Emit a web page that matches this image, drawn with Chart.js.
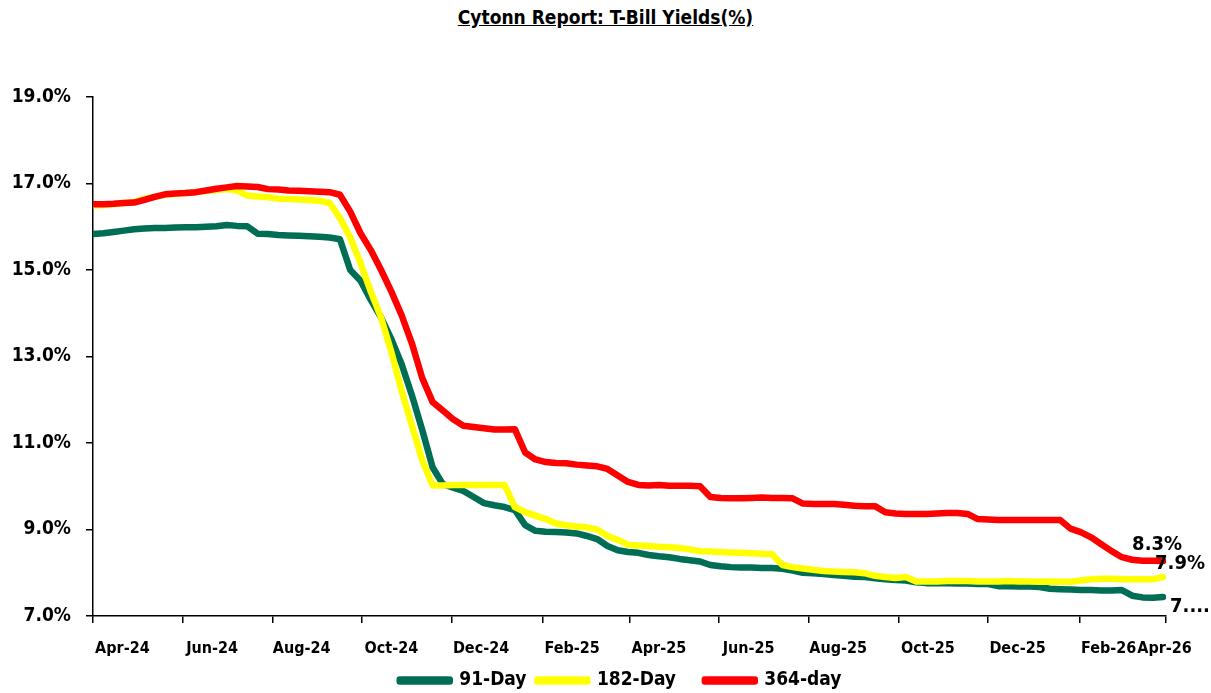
<!DOCTYPE html>
<html>
<head>
<meta charset="utf-8">
<script src="https://cdn.jsdelivr.net/npm/chart.js@4.4.1/dist/chart.umd.min.js"></script>
<style>
  body { margin: 0; background: #fff; }
  .wrap { position: relative; width: 1211px; height: 693px; }
  .title {
    position: absolute; top: 6px; left: 0; width: 1211px; text-align: center;
    font: bold 19px "DejaVu Sans Condensed", "Liberation Sans", sans-serif;
    text-decoration: underline; color: #000;
  }
  canvas { position: absolute; top: 0; left: 0; }
</style>
</head>
<body>
<div class="wrap">
  <div class="title">Cytonn Report: T-Bill Yields(%)</div>
  <canvas id="chart" width="1211" height="693"></canvas>
</div>
<script>
// weekly T-bill yields, first point = 1 Apr 2024
const day91 = [
  15.83, 15.85, 15.88, 15.91, 15.94, 15.96, 15.97, 15.97, 15.98, 15.99,
  15.99, 16.00, 16.01, 16.04, 16.02, 16.01, 15.84, 15.83, 15.81, 15.80,
  15.79, 15.78, 15.77, 15.75, 15.71, 15.00, 14.75, 14.31, 13.90, 13.40,
  12.82, 12.10, 11.30, 10.44, 10.05, 9.97, 9.89, 9.75, 9.61, 9.56,
  9.52, 9.45, 9.10, 8.97, 8.95, 8.94, 8.93, 8.91, 8.85, 8.78,
  8.62, 8.52, 8.48, 8.46, 8.41, 8.38, 8.36, 8.32, 8.29, 8.26,
  8.18, 8.15, 8.13, 8.12, 8.12, 8.11, 8.11, 8.09, 8.05, 8.00,
  7.99, 7.97, 7.95, 7.93, 7.91, 7.90, 7.87, 7.85, 7.83, 7.82,
  7.78, 7.76, 7.76, 7.76, 7.75, 7.75, 7.74, 7.74, 7.69, 7.69,
  7.68, 7.68, 7.67, 7.63, 7.62, 7.61, 7.60, 7.60, 7.59, 7.59,
  7.60, 7.47, 7.43, 7.42, 7.44
];
const day182 = [
  16.50, 16.50, 16.52, 16.55, 16.57, 16.65, 16.69, 16.74, 16.76, 16.78,
  16.80, 16.83, 16.85, 16.87, 16.84, 16.72, 16.70, 16.68, 16.65, 16.64,
  16.63, 16.62, 16.60, 16.55, 16.20, 15.75, 15.16, 14.50, 13.90, 13.10,
  12.20, 11.40, 10.60, 10.02, 10.02, 10.03, 10.03, 10.03, 10.03, 10.03,
  10.03, 9.52, 9.40, 9.32, 9.24, 9.14, 9.10, 9.07, 9.05, 9.00,
  8.85, 8.76, 8.65, 8.63, 8.62, 8.60, 8.59, 8.57, 8.54, 8.50,
  8.49, 8.48, 8.47, 8.46, 8.45, 8.44, 8.43, 8.18, 8.13, 8.10,
  8.07, 8.04, 8.03, 8.02, 8.01, 7.99, 7.93, 7.90, 7.88, 7.90,
  7.80, 7.80, 7.80, 7.81, 7.81, 7.81, 7.80, 7.80, 7.80, 7.81,
  7.80, 7.80, 7.79, 7.80, 7.79, 7.79, 7.82, 7.85, 7.86, 7.86,
  7.85, 7.85, 7.85, 7.85, 7.90
];
const day364 = [
  16.52, 16.52, 16.53, 16.55, 16.56, 16.62, 16.69, 16.75, 16.77, 16.78,
  16.80, 16.84, 16.88, 16.91, 16.94, 16.93, 16.92, 16.87, 16.86, 16.84,
  16.83, 16.82, 16.81, 16.80, 16.74, 16.35, 15.85, 15.46, 15.00, 14.50,
  13.95, 13.30, 12.50, 11.95, 11.75, 11.55, 11.40, 11.37, 11.34, 11.31,
  11.31, 11.32, 10.78, 10.62, 10.56, 10.54, 10.53, 10.50, 10.48, 10.46,
  10.40, 10.25, 10.10, 10.03, 10.02, 10.03, 10.01, 10.01, 10.01, 10.00,
  9.75, 9.73, 9.72, 9.72, 9.73, 9.74, 9.73, 9.73, 9.72, 9.60,
  9.59, 9.59, 9.59, 9.57, 9.55, 9.54, 9.54, 9.40, 9.37, 9.36,
  9.36, 9.36, 9.37, 9.38, 9.38, 9.36, 9.24, 9.23, 9.22, 9.22,
  9.22, 9.22, 9.22, 9.22, 9.22, 9.02, 8.94, 8.82, 8.66, 8.50,
  8.36, 8.30, 8.28, 8.28, 8.27
];
const weekDays = day91.map((_, i) => i * 7);

const tickLabels = ["Apr-24", "Jun-24", "Aug-24", "Oct-24", "Dec-24", "Feb-25", "Apr-25",
  "Jun-25", "Aug-25", "Oct-25", "Dec-25", "Feb-26", "Apr-26"];
const tickDays = [0, 61, 122, 183, 244, 306, 365, 426, 487, 548, 609, 671, 730];
const yTicks = [7, 9, 11, 13, 15, 17, 19];
const endTexts = ["7....", "7.9%", "8.3%"];

const FONT = '"DejaVu Sans Condensed", "Liberation Sans", sans-serif';

// label spots relative to the last point of each line
const labelSpots = [
  { dx: 7, dy: 10, align: "left" },
  { dx: -8, dy: -13, align: "left" },
  { dx: -6, dy: -16, align: "center" }
];

const endLabels = {
  id: "endLabels",
  afterDatasetsDraw(chart) {
    const ctx = chart.ctx;
    ctx.save();
    ctx.font = "bold 20px " + FONT;
    ctx.fillStyle = "#000";
    ctx.textBaseline = "middle";
    chart.data.datasets.forEach((ds, i) => {
      const pts = chart.getDatasetMeta(i).data;
      const p = pts[pts.length - 1];
      const s = labelSpots[i];
      ctx.textAlign = s.align;
      ctx.fillText(endTexts[i], p.x + s.dx, p.y + s.dy);
    });
    ctx.restore();
  }
};

// fixed legend strip height
const legendHeight = {
  id: "legendHeight",
  beforeInit(chart) {
    const fit = chart.legend.fit;
    chart.legend.fit = function () {
      fit.bind(chart.legend)();
      this.height = 33;
    };
  }
};

function series(vals) {
  return vals.map((v, i) => ({ x: weekDays[i], y: v }));
}

const common = {
  borderWidth: 6.5,
  pointRadius: 0,
  tension: 0,
  borderJoinStyle: "round",
  borderCapStyle: "round"
};

new Chart(document.getElementById("chart"), {
  type: "line",
  data: {
    datasets: [
      { ...common, label: "91-Day", data: series(day91), borderColor: "#006e55", backgroundColor: "#006e55", order: 3 },
      { ...common, label: "182-Day", data: series(day182), borderColor: "#ffff00", backgroundColor: "#ffff00", order: 2 },
      { ...common, label: "364-day", data: series(day364), borderColor: "#ff0000", backgroundColor: "#ff0000", order: 1 }
    ]
  },
  options: {
    responsive: false,
    animation: false,
    layout: { padding: { left: 0, right: 45, top: 97, bottom: 0 } },
    plugins: {
      tooltip: { enabled: false },
      legend: {
        position: "bottom",
        fullSize: false,
        labels: {
          sort: (a, b) => a.datasetIndex - b.datasetIndex,
          generateLabels: chart => {
            const items = Chart.defaults.plugins.legend.labels.generateLabels(chart);
            return items.map((it, i) => ({ ...it, text: i < items.length - 1 ? it.text + "   " : it.text }));
          },
          boxWidth: 50,
          boxHeight: 2,
          useBorderRadius: true,
          borderRadius: 2,
          padding: 11,
          color: "#000",
          font: { family: FONT, size: 19, weight: "bold" }
        }
      }
    },
    scales: {
      x: {
        type: "linear",
        min: 0,
        max: 730,
        weight: 0,
        afterBuildTicks: s => { s.ticks = tickDays.map(v => ({ value: v })); },
        afterFit: s => { s.height = 7; },
        ticks: { display: false },
        grid: { drawOnChartArea: false, drawTicks: true, tickLength: 7, color: "#000", lineWidth: 1.5 },
        border: { color: "#000", width: 1.5 }
      },
      x2: {
        type: "linear",
        position: "bottom",
        min: 0,
        max: 730,
        weight: 1,
        afterBuildTicks: s => {
          s.ticks = tickDays.map((v, i) => ({ value: i === tickDays.length - 1 ? 729 : v + 20 }));
        },
        afterFit: s => { s.height = 37; },
        ticks: {
          autoSkip: false,
          maxRotation: 0,
          padding: 16,
          color: "#000",
          font: { family: FONT, size: 16, weight: "bold" },
          callback: (v, i) => tickLabels[i]
        },
        grid: { display: false, drawTicks: false },
        border: { display: false }
      },
      y: {
        min: 7,
        max: 19,
        afterBuildTicks: s => { s.ticks = yTicks.map(v => ({ value: v })); },
        afterFit: s => { s.width = 93; },
        ticks: {
          padding: 15,
          color: "#000",
          font: { family: FONT, size: 19, weight: "bold" },
          callback: v => v.toFixed(1) + "%"
        },
        grid: { drawOnChartArea: false, drawTicks: true, tickLength: 7, color: "#000", lineWidth: 1.5 },
        border: { color: "#000", width: 1.5 }
      }
    }
  },
  plugins: [endLabels, legendHeight]
});
</script>
</body>
</html>
